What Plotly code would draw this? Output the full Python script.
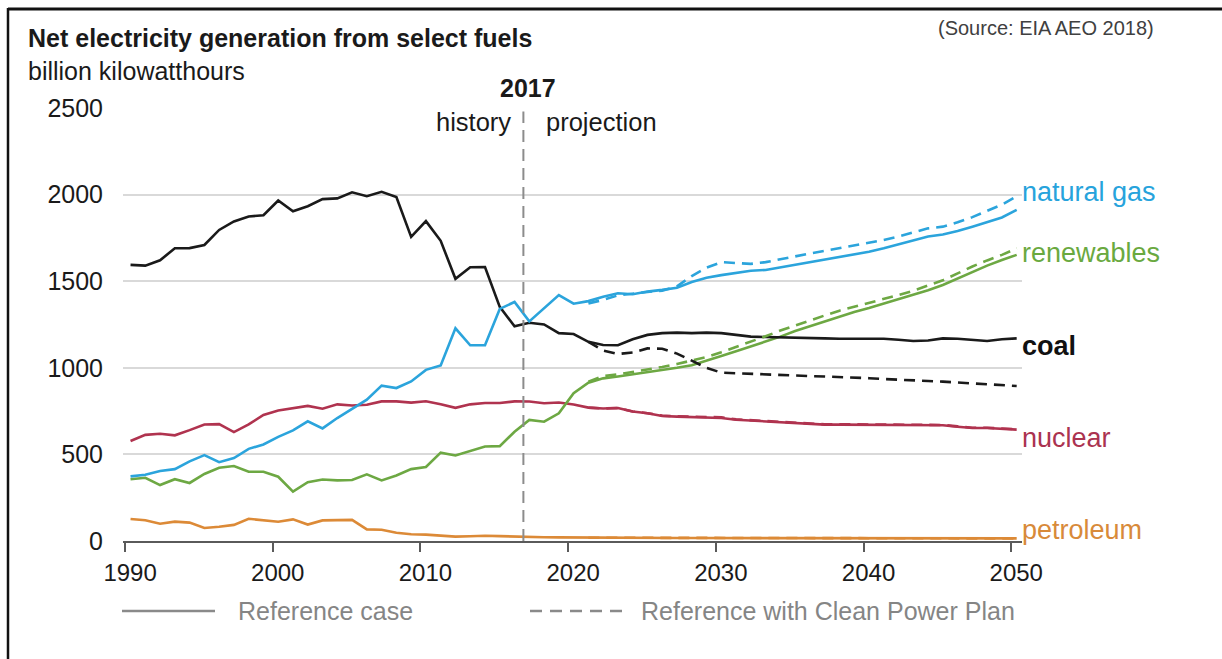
import plotly.graph_objects as go

# ---------------- data (billion kWh) ----------------
years = list(range(1990, 2051))
cpp_years = list(range(2021, 2051))

coal_ref = [1594, 1590, 1621, 1690, 1691, 1709, 1796, 1845, 1874, 1881,
            1966, 1904, 1933, 1974, 1978, 2013, 1991, 2016, 1986, 1756,
            1847, 1733, 1514, 1581, 1582, 1352, 1240, 1260, 1250, 1200,
            1195, 1150, 1132, 1130, 1165, 1190, 1200, 1203, 1200, 1203,
            1200, 1190, 1180, 1178, 1175, 1172, 1170, 1170, 1168, 1168,
            1168, 1168, 1162, 1155, 1158, 1170, 1168, 1162, 1155, 1165,
            1170]
gas_ref = [373, 382, 404, 415, 460, 496, 455, 479, 532, 557,
           601, 639, 691, 650, 710, 761, 816, 897, 883, 921,
           988, 1014, 1228, 1130, 1130, 1340, 1380, 1268, 1345, 1420,
           1370, 1385, 1410, 1430, 1425, 1440, 1450, 1462, 1495, 1520,
           1535, 1548, 1560, 1565, 1580, 1595, 1610, 1625, 1640, 1655,
           1670, 1690, 1712, 1738, 1758, 1770, 1790, 1815, 1842, 1868,
           1912]
ren_ref = [357, 365, 323, 357, 335, 387, 423, 433, 400, 400,
           371, 285, 340, 355, 350, 352, 385, 350, 378, 415,
           427, 510, 494, 522, 546, 548, 631, 699, 689, 737,
           853, 914, 939, 950, 962, 972, 985, 1000, 1015, 1040,
           1068, 1095, 1122, 1150, 1180, 1212, 1240, 1268, 1295, 1322,
           1345, 1370, 1395, 1420, 1448, 1478, 1515, 1555, 1590, 1622,
           1652]
nuc_ref = [577, 613, 619, 610, 640, 673, 675, 629, 673, 728,
           754, 769, 780, 764, 789, 782, 787, 806, 806, 799,
           807, 790, 769, 789, 797, 797, 806, 805, 795, 800,
           788, 770, 765, 768, 748, 738, 722, 718, 716, 714,
           710, 700, 695, 694, 688, 680, 675, 672, 672, 672,
           672, 672, 670, 672, 670, 668, 660, 652, 652, 648,
           643]
pet_ref = [127, 120, 100, 112, 106, 75, 82, 93, 128, 118,
           111, 125, 95, 119, 121, 122, 67, 65, 48, 39,
           37, 30, 25, 27, 30, 28, 25, 21, 22, 21,
           20, 19, 19, 18, 18, 18, 18, 17, 17, 17,
           17, 17, 17, 16, 16, 16, 16, 16, 16, 16,
           16, 16, 15, 15, 15, 15, 15, 15, 15, 15,
           15]

# Reference with Clean Power Plan (2021-2050)
coal_cpp = [1150, 1100, 1080, 1088, 1112, 1110, 1082, 1040, 1000, 972,
            968, 965, 962, 960, 956, 952, 950, 948, 945, 940,
            935, 930, 927, 924, 920, 915, 910, 905, 900, 895]
gas_cpp = [1372, 1392, 1418, 1430, 1438, 1445, 1470, 1530, 1578, 1610,
           1605, 1600, 1610, 1628, 1645, 1660, 1675, 1690, 1705, 1722,
           1738, 1758, 1782, 1805, 1815, 1840, 1870, 1905, 1942, 1990]
ren_cpp = [920, 952, 962, 975, 990, 1005, 1022, 1040, 1062, 1090,
           1120, 1150, 1182, 1215, 1245, 1275, 1302, 1330, 1352, 1372,
           1395, 1420, 1445, 1475, 1505, 1545, 1585, 1620, 1652, 1690]
nuc_cpp = [770, 765, 768, 748, 738, 724, 720, 718, 716, 714,
           702, 697, 696, 690, 682, 677, 674, 674, 674, 674,
           674, 672, 674, 672, 670, 662, 654, 654, 650, 645]
pet_cpp = [19, 19, 18, 18, 18, 18, 17, 17, 17, 17,
           17, 17, 16, 16, 16, 16, 16, 16, 16, 16,
           16, 15, 15, 15, 15, 15, 15, 15, 15, 14]

x_tick_labels = ["1990", "2000", "2010", "2020", "2030", "2040", "2050"]
y_tick_vals = [0, 500, 1000, 1500, 2000, 2500]
series_names = ["natural gas", "renewables", "coal", "nuclear", "petroleum"]

# ---------------- style ----------------
FONT = "Liberation Sans, Arial, sans-serif"
colors = {
    "coal": "#1a1a1a",
    "natural gas": "#2ba4dc",
    "renewables": "#6da843",
    "nuclear": "#b0334f",
    "petroleum": "#dc8a37",
}
label_colors = {
    "coal": "#111111",
    "natural gas": "#27a3dc",
    "renewables": "#6aa93f",
    "nuclear": "#ab3350",
    "petroleum": "#d88a3a",
}

W_FIG, H_FIG = 1222, 659
L, R, T, B = 123, 200, 108, 118
PW, PH = W_FIG - L - R, H_FIG - T - B


def px(x):
    return (x - L) / PW


def py(y):
    return 1 - (y - T) / PH


fig = go.Figure()

ref_data = {"coal": coal_ref, "natural gas": gas_ref, "renewables": ren_ref,
            "nuclear": nuc_ref, "petroleum": pet_ref}
cpp_data = {"coal": coal_cpp, "natural gas": gas_cpp, "renewables": ren_cpp,
            "nuclear": nuc_cpp, "petroleum": pet_cpp}

order = ["petroleum", "nuclear", "renewables", "coal", "natural gas"]
for name in order:
    fig.add_trace(go.Scatter(x=years, y=ref_data[name], mode="lines",
                             line=dict(color=colors[name], width=2.6),
                             showlegend=False, hoverinfo="skip"))
for name in order:
    fig.add_trace(go.Scatter(x=cpp_years, y=cpp_data[name], mode="lines",
                             line=dict(color=colors[name], width=2.6, dash="11px,7px"),
                             showlegend=False, hoverinfo="skip"))

# tick positions (ticks sit half a category left of the labels, like the original)
tick_years = [int(t) for t in x_tick_labels]
tick_pos = [t - 0.37 for t in tick_years]

fig.update_xaxes(range=[1989.49, 2050.36], tickvals=tick_pos, ticktext=x_tick_labels,
                 ticklabelshift=5, showgrid=False, zeroline=False,
                 showline=True, linecolor="#5a5a5a", linewidth=2,
                 ticks="outside", ticklen=9, tickwidth=2, tickcolor="#5a5a5a",
                 tickfont=dict(family=FONT, size=24, color="#1a1a1a"))
fig.update_yaxes(range=[0, 2500], tickvals=y_tick_vals, showgrid=True,
                 gridcolor="#d9d9d9", gridwidth=1.6, zeroline=False,
                 showline=False, ticks="", ticklabelstandoff=19,
                 tickfont=dict(family=FONT, size=25, color="#1a1a1a"))

shapes = []
# history / projection divider
shapes.append(dict(type="line", xref="x", yref="y", x0=2016.6, x1=2016.6, y0=0, y1=2480,
                   line=dict(color="#8c8c8c", width=2, dash="12px,7px"), layer="above"))
# outer frame (top and left edges)
shapes.append(dict(type="line", xref="paper", yref="paper", x0=px(8), x1=px(1230), y0=py(9), y1=py(9),
                   line=dict(color="#111111", width=3)))
shapes.append(dict(type="line", xref="paper", yref="paper", x0=px(8), x1=px(8), y0=py(8), y1=py(670),
                   line=dict(color="#111111", width=2.5)))
# legend keys
shapes.append(dict(type="line", xref="paper", yref="paper", x0=px(122), x1=px(215), y0=py(611), y1=py(611),
                   line=dict(color="#8a8a8a", width=2.5)))
shapes.append(dict(type="line", xref="paper", yref="paper", x0=px(530), x1=px(625), y0=py(611), y1=py(611),
                   line=dict(color="#8a8a8a", width=2.5, dash="12px,8px")))

ann = []


def text(x, y, s, size, color="#1a1a1a", anchor="left", bold=False):
    ann.append(dict(xref="paper", yref="paper", x=px(x), y=py(y), text=("<b>%s</b>" % s) if bold else s,
                    showarrow=False, xanchor=anchor, yanchor="middle",
                    font=dict(family=FONT, size=size, color=color)))


text(26, 38, "Net electricity generation from select fuels", 25, "#1a1a1a", bold=True)
text(26, 71, "billion kilowatthours", 25, "#1a1a1a")
text(1156, 28, "(Source: EIA AEO 2018)", 20, "#404040", anchor="right")
text(528, 88, "2017", 25, "#1a1a1a", anchor="center", bold=True)
text(513, 122, "history", 25.5, "#1a1a1a", anchor="right")
text(544, 122, "projection", 25.5, "#1a1a1a", anchor="left")
label_y = {"natural gas": 192, "renewables": 253, "coal": 346, "nuclear": 438, "petroleum": 530}
for name in series_names:
    text(1020, label_y[name], name, 27, label_colors[name], bold=(name == "coal"))
text(236, 611, "Reference case", 25, "#858585")
text(639, 611, "Reference with Clean Power Plan", 25, "#858585")

fig.update_layout(width=W_FIG, height=H_FIG, margin=dict(l=L, r=R, t=T, b=B, autoexpand=False),
                  paper_bgcolor="white", plot_bgcolor="white", showlegend=False,
                  shapes=shapes, annotations=ann, font=dict(family=FONT))

fig.write_html("out.html", config={"displayModeBar": False},
               post_script="document.body.style.margin='0px';")
